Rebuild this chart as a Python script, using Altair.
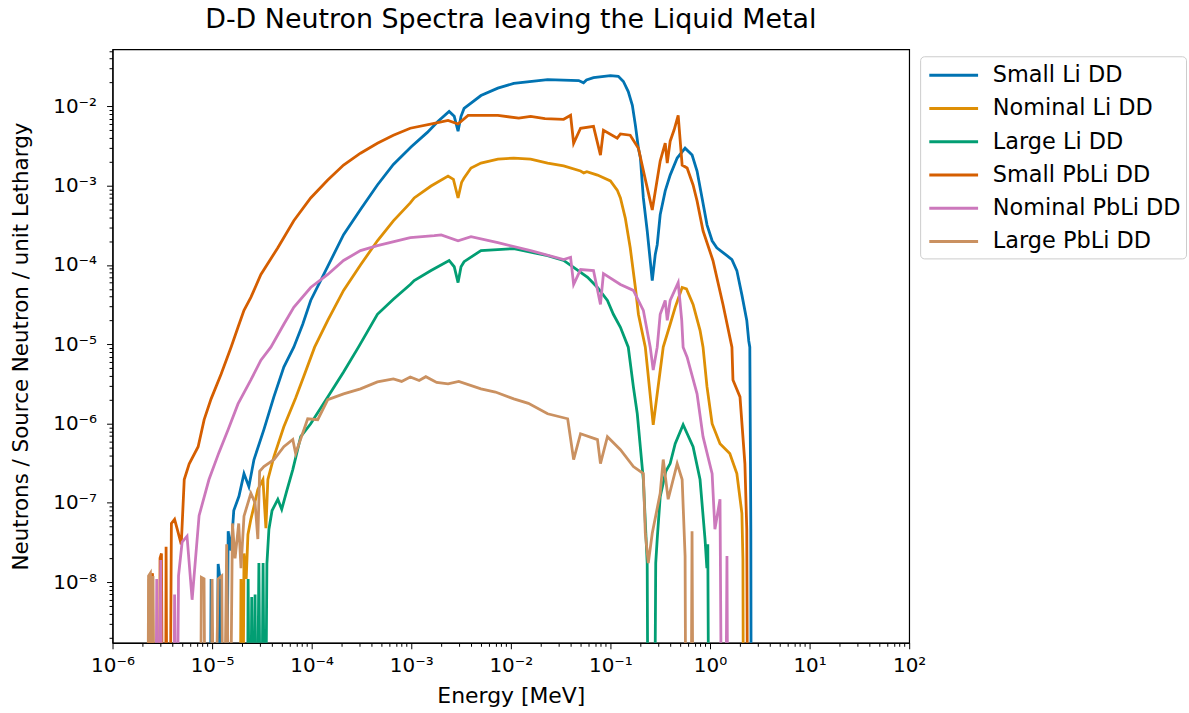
import altair as alt
import pandas as pd

SERIES = ["Small Li DD", "Nominal Li DD", "Large Li DD",
          "Small PbLi DD", "Nominal PbLi DD", "Large PbLi DD"]
COLORS = ["#0173b2", "#de8f05", "#029e73", "#d55e00", "#cc78bc", "#ca9161"]

# (energy [MeV], neutrons / source neutron / unit lethargy); 0 = empty tally
small_li = [
    (9.5e-6, 0), (9.77e-6, 1.1e-8), (1.0e-5, 0), (1.1e-5, 0), (1.15e-5, 1.7e-8), (1.2e-5, 1.1e-8),
    (1.25e-5, 0), (1.38e-5, 0), (1.45e-5, 4.4e-8), (1.55e-5, 2.5e-8), (1.65e-5, 8.0e-8), (1.86e-5, 1.21e-7),
    (2.09e-5, 2.34e-7), (2.34e-5, 1.6e-7), (2.63e-5, 3.5e-7), (3.31e-5, 8.4e-7), (4.17e-5, 2.17e-6),
    (5.25e-5, 5.16e-6), (6.61e-5, 9.2e-6), (8.13e-5, 1.79e-5), (9.77e-5, 3.57e-5), (1.45e-4, 9.6e-5),
    (2.09e-4, 2.41e-4), (3.09e-4, 5.0e-4), (4.57e-4, 1.02e-3), (6.61e-4, 1.85e-3), (1.0e-3, 3.1e-3),
    (1.45e-3, 4.7e-3), (1.86e-3, 6.49e-3), (2.40e-3, 8.65e-3), (2.70e-3, 7.5e-3), (2.95e-3, 4.86e-3),
    (3.16e-3, 7.5e-3), (3.39e-3, 9.44e-3), (5.01e-3, 1.37e-2), (7.4e-3, 1.7e-2), (1.07e-2, 1.95e-2),
    (2.34e-2, 2.18e-2), (4.8e-2, 2.12e-2), (5.37e-2, 1.98e-2), (5.75e-2, 2.15e-2), (6.76e-2, 2.3e-2),
    (1.0e-1, 2.45e-2), (1.2e-1, 2.4e-2), (1.35e-1, 2.06e-2), (1.51e-1, 1.54e-2), (1.66e-1, 1.03e-2),
    (1.78e-1, 5.8e-3), (1.91e-1, 2.97e-3), (2.0e-1, 2.23e-3), (2.14e-1, 7.0e-4), (2.34e-1, 2.7e-4),
    (2.63e-1, 6.37e-5), (2.82e-1, 1.36e-4), (2.95e-1, 1.8e-4), (3.16e-1, 4.29e-4), (3.55e-1, 8.6e-4),
    (3.98e-1, 1.36e-3), (4.68e-1, 2.23e-3), (5.62e-1, 2.97e-3), (6.61e-1, 2.43e-3), (7.41e-1, 1.53e-3),
    (8.32e-1, 7.0e-4), (9.33e-1, 3.21e-4), (1.05, 2.02e-4), (1.17, 1.65e-4), (1.48, 1.31e-4),
    (1.66, 1.17e-4), (1.86, 8.5e-5), (2.09, 4.2e-5), (2.34, 2.0e-5), (2.45, 1.1e-5), (2.51, 9.2e-6),
    (2.57, 4.66e-8), (2.6, 0),
]

nominal_li = [
    (1.9e-5, 0), (1.95e-5, 1.1e-8), (2.02e-5, 0), (2.09e-5, 2.3e-8), (2.2e-5, 1.1e-8), (2.29e-5, 4.0e-8),
    (2.45e-5, 6.2e-8), (2.63e-5, 9.0e-8), (2.88e-5, 1.48e-7), (3.24e-5, 1.97e-7), (3.47e-5, 4.8e-8),
    (3.63e-5, 1.97e-7), (4.17e-5, 3.8e-7), (5.25e-5, 9.1e-7), (6.9e-5, 2.1e-6), (8.3e-5, 3.9e-6),
    (1.07e-4, 9.2e-6), (1.45e-4, 2.0e-5), (2.09e-4, 4.78e-5), (3.09e-4, 1.0e-4), (4.57e-4, 2.02e-4),
    (6.61e-4, 3.6e-4), (9.77e-4, 6.07e-4), (1.07e-3, 7.0e-4), (1.58e-3, 9.9e-4), (2.34e-3, 1.32e-3),
    (2.65e-3, 1.2e-3), (2.95e-3, 7.0e-4), (3.2e-3, 1.1e-3), (3.39e-3, 1.25e-3), (3.98e-3, 1.67e-3),
    (5.01e-3, 1.93e-3), (7.41e-3, 2.16e-3), (1.07e-2, 2.23e-3), (1.58e-2, 2.16e-3), (2.34e-2, 1.93e-3),
    (3.39e-2, 1.78e-3), (5.01e-2, 1.53e-3), (5.4e-2, 1.45e-3), (5.8e-2, 1.5e-3), (7.41e-2, 1.36e-3),
    (1.0e-1, 1.15e-3), (1.17e-1, 8.8e-4), (1.26e-1, 7.0e-4), (1.41e-1, 3.9e-4), (1.58e-1, 1.65e-4),
    (1.78e-1, 5.2e-5), (1.91e-1, 2.39e-5), (2.24e-1, 9.2e-6), (2.69e-1, 9.66e-7), (3.39e-1, 9.2e-6),
    (3.98e-1, 1.79e-5), (4.47e-1, 2.92e-5), (5.25e-1, 5.2e-5), (5.8e-1, 5.0e-5), (6.76e-1, 3.18e-5),
    (7.94e-1, 1.5e-5), (8.51e-1, 9.2e-6), (9.33e-1, 2.9e-6), (1.05, 9.95e-7), (1.26, 5.58e-7),
    (1.58, 4.18e-7), (1.86, 2.34e-7), (2.09, 7.4e-8), (2.14, 1.95e-8), (2.18, 0),
]

large_li = [
    (2.25e-5, 0), (2.3e-5, 1.1e-8), (2.4e-5, 0), (2.5e-5, 6.5e-9), (2.6e-5, 0), (2.7e-5, 7.0e-9),
    (2.8e-5, 0), (2.95e-5, 1.74e-8), (3.1e-5, 0), (3.25e-5, 1.74e-8), (3.4e-5, 0), (3.55e-5, 1.7e-8),
    (3.72e-5, 4.66e-8), (4.0e-5, 8.0e-8), (4.57e-5, 1.11e-7), (5.0e-5, 8.3e-8), (5.6e-5, 1.4e-7),
    (6.46e-5, 2.63e-7), (7.76e-5, 6.83e-7), (9.77e-5, 9.95e-7), (1.45e-4, 2.17e-6), (2.09e-4, 4.47e-6),
    (2.95e-4, 9.2e-6), (4.57e-4, 2.39e-5), (6.61e-4, 3.7e-5), (9.77e-4, 5.68e-5), (1.07e-3, 6.37e-5),
    (1.58e-3, 8.5e-5), (2.40e-3, 1.14e-4), (2.70e-3, 9.5e-5), (2.95e-3, 6.0e-5), (3.16e-3, 9.5e-5),
    (3.39e-3, 1.1e-4), (5.01e-3, 1.52e-4), (1.07e-2, 1.61e-4), (2.34e-2, 1.31e-4), (3.39e-2, 1.14e-4),
    (4.27e-2, 9.3e-5), (5.9e-2, 7.0e-5), (7.41e-2, 5.2e-5), (9.33e-2, 3.57e-5), (1.07e-1, 2.39e-5),
    (1.26e-1, 1.64e-5), (1.51e-1, 9.2e-6), (1.70e-1, 2.9e-6), (1.86e-1, 1.33e-6), (2.14e-1, 1.97e-7),
    (2.34e-1, 1.74e-8), (2.40e-1, 0), (2.75e-1, 0), (2.85e-1, 1.74e-8), (2.95e-1, 3.5e-8),
    (3.16e-1, 1.2e-7), (3.6e-1, 2.5e-7), (3.98e-1, 3.13e-7), (4.47e-1, 5.58e-7), (5.37e-1, 9.66e-7),
    (6.76e-1, 5.12e-7), (7.94e-1, 1.97e-7), (8.91e-1, 3.48e-8), (9.3e-1, 1.5e-8), (9.5e-1, 3.0e-8),
    (9.8e-1, 0),
]

small_pbli = [
    (2.30e-6, 0), (2.33e-6, 1.1e-8), (2.38e-6, 0), (2.52e-6, 1.3e-8), (2.58e-6, 0), (2.95e-6, 0),
    (3.0e-6, 2.0e-8), (3.1e-6, 2.3e-8), (3.2e-6, 0), (3.4e-6, 0), (3.45e-6, 2.8e-8), (3.55e-6, 0),
    (3.75e-6, 0), (3.9e-6, 5.5e-8), (4.2e-6, 6.2e-8), (4.5e-6, 4.5e-8), (4.9e-6, 3.0e-8),
    (5.25e-6, 1.97e-7), (5.89e-6, 3.1e-7), (7.24e-6, 5.1e-7), (8.32e-6, 1.12e-6), (9.77e-6, 2.05e-6),
    (1.23e-5, 4.2e-6), (1.55e-5, 9.2e-6), (1.82e-5, 1.64e-5), (2.09e-5, 2.68e-5), (2.45e-5, 3.9e-5),
    (3.09e-5, 7.59e-5), (4.57e-5, 1.65e-4), (6.61e-5, 3.61e-4), (9.77e-5, 7.0e-4), (1.45e-4, 1.18e-3),
    (2.09e-4, 1.82e-3), (3.09e-4, 2.57e-3), (4.57e-4, 3.43e-3), (6.61e-4, 4.33e-3), (9.77e-4, 5.3e-3),
    (1.70e-3, 6.12e-3), (2.34e-3, 6.67e-3), (2.95e-3, 6.0e-3), (3.72e-3, 7.71e-3), (7.41e-3, 7.71e-3),
    (1.2e-2, 7.1e-3), (1.58e-2, 7.5e-3), (2.2e-2, 7.0e-3), (3.39e-2, 6.87e-3), (3.98e-2, 7.71e-3),
    (4.27e-2, 3.43e-3), (5.01e-2, 5.3e-3), (6.76e-2, 5.61e-3), (7.94e-2, 2.43e-3), (8.51e-2, 5.0e-3),
    (1.17e-1, 3.97e-3), (1.26e-1, 4.5e-3), (1.58e-1, 4.33e-3), (1.91e-1, 2.97e-3), (2.24e-1, 1.2e-3),
    (2.63e-1, 4.95e-4), (3.16e-1, 2.04e-3), (3.55e-1, 3.43e-3), (3.72e-1, 1.93e-3), (3.98e-1, 3.64e-3),
    (4.37e-1, 5.1e-3), (4.79e-1, 7.7e-3), (5.25e-1, 1.82e-3), (5.89e-1, 1.67e-3), (6.76e-1, 1.02e-3),
    (7.41e-1, 6.43e-4), (8.51e-1, 2.7e-4), (1.07, 1.14e-4), (1.35, 3.18e-5), (1.66, 9.2e-6),
    (1.70, 3.55e-6), (2.0, 2.17e-6), (2.24, 3.13e-7), (2.34, 4.66e-8), (2.40, 0),
]

nominal_pbli = [
    (2.7e-6, 0), (2.78e-6, 1.1e-8), (2.9e-6, 0), (3.05e-6, 1.9e-8), (3.15e-6, 0), (4.1e-6, 0),
    (4.2e-6, 7e-9), (4.4e-6, 0), (4.6e-6, 1.2e-8), (5.0e-6, 3.2e-8), (5.6e-6, 3.8e-8), (6.3e-6, 6e-9),
    (7.4e-6, 6.9e-8), (9.3e-6, 1.97e-7), (1.17e-5, 4.3e-7), (1.45e-5, 8.4e-7), (1.82e-5, 1.77e-6),
    (2.45e-5, 3.55e-6), (3.09e-5, 6.3e-6), (3.89e-5, 9.2e-6), (5.25e-5, 1.79e-5), (6.61e-5, 2.92e-5),
    (9.77e-5, 5.2e-5), (1.45e-4, 7.59e-5), (2.09e-4, 1.14e-4), (3.09e-4, 1.52e-4), (4.57e-4, 1.75e-4),
    (9.77e-4, 2.21e-4), (1.70e-3, 2.34e-4), (2.0e-3, 2.4e-4), (2.95e-3, 2.02e-4), (3.98e-3, 2.27e-4),
    (7.41e-3, 1.91e-4), (1.58e-2, 1.52e-4), (3.39e-2, 1.17e-4), (3.98e-2, 1.25e-4), (4.27e-2, 5.68e-5),
    (5.01e-2, 8.75e-5), (6.76e-2, 8.51e-5), (7.94e-2, 3.18e-5), (8.51e-2, 7.8e-5), (1.26e-1, 5.68e-5),
    (1.70e-1, 4.78e-5), (2.14e-1, 2.68e-5), (2.51e-1, 9.2e-6), (2.69e-1, 4.73e-6), (2.95e-1, 9.2e-6),
    (3.16e-1, 2.39e-5), (3.55e-1, 3.57e-5), (3.72e-1, 2.0e-5), (3.98e-1, 3.57e-5), (4.79e-1, 6.0e-5),
    (5.2e-1, 2.0e-5), (5.37e-1, 9.2e-6), (5.89e-1, 6.89e-6), (7.41e-1, 2.37e-6), (8.51e-1, 6.83e-7),
    (1.05, 2.34e-7), (1.12, 4.66e-8), (1.26, 1.11e-7), (1.32, 0), (1.42, 0), (1.48, 2.13e-8), (1.52, 0),
]

large_pbli = [
    (2.25e-6, 0), (2.3e-6, 1.2e-8), (2.4e-6, 1.3e-8), (2.5e-6, 0), (2.55e-6, 1.2e-8), (2.65e-6, 0),
    (7.6e-6, 0), (7.8e-6, 1.15e-8), (8.3e-6, 1.1e-8), (8.6e-6, 0), (9.7e-6, 0), (1.0e-5, 1.1e-8),
    (1.05e-5, 0), (1.15e-5, 1.1e-8), (1.25e-5, 1.2e-8), (1.3e-5, 0), (1.4e-5, 3.0e-8), (1.5e-5, 0),
    (1.6e-5, 5.5e-8), (1.7e-5, 2.0e-8), (1.85e-5, 5.5e-8), (1.95e-5, 1.5e-8), (2.09e-5, 6.8e-8),
    (2.45e-5, 1.32e-7), (2.7e-5, 1.0e-7), (2.88e-5, 3.5e-8), (3.0e-5, 2.5e-7), (3.31e-5, 2.87e-7),
    (4.17e-5, 3.5e-7), (5.25e-5, 5.1e-7), (6.46e-5, 6.3e-7), (6.9e-5, 4.2e-7), (9.12e-5, 1.15e-6),
    (1.15e-4, 1.12e-6), (1.45e-4, 2.0e-6), (2.09e-4, 2.37e-6), (3.09e-4, 2.74e-6), (4.57e-4, 3.35e-6),
    (6.61e-4, 3.65e-6), (8.0e-4, 3.4e-6), (9.77e-4, 3.87e-6), (1.2e-3, 3.5e-6), (1.4e-3, 3.9e-6),
    (1.8e-3, 3.3e-6), (2.34e-3, 3.16e-6), (3.0e-3, 3.4e-6), (5.01e-3, 2.74e-6), (7.0e-3, 2.5e-6),
    (1.07e-2, 2.05e-6), (1.5e-2, 1.8e-6), (2.34e-2, 1.33e-6), (3.72e-2, 1.15e-6), (4.27e-2, 3.52e-7),
    (5.01e-2, 7.45e-7), (7.41e-2, 6.27e-7), (7.94e-2, 3.13e-7), (9.33e-2, 6.83e-7), (1.26e-1, 4.69e-7),
    (1.70e-1, 2.87e-7), (2.14e-1, 2.34e-7), (2.24e-1, 4.14e-8), (2.40e-1, 1.74e-8), (2.63e-1, 4.14e-8),
    (3.16e-1, 1.32e-7), (3.39e-1, 3.52e-7), (3.80e-1, 1.11e-7), (4.68e-1, 3.13e-7), (5.25e-1, 1.97e-7),
    (5.62e-1, 2.13e-8), (5.75e-1, 0), (6.4e-1, 0), (6.6e-1, 4.39e-8), (6.8e-1, 0),
]

SPECTRA = [small_li, nominal_li, large_li, small_pbli, nominal_pbli, large_pbli]

FLOOR = 1e-11  # empty tallies fall below the log axis and are clipped, as in the original
rows = []
for name, spec in zip(SERIES, SPECTRA):
    for i, (e, f) in enumerate(spec):
        rows.append({"series": name, "energy": e, "flux": max(f, FLOOR), "idx": i})
df = pd.DataFrame(rows)

x_ticks = [10.0 ** k for k in range(-6, 3)] + [m * 10.0 ** k for k in range(-6, 2) for m in range(2, 10)]
y_ticks = [10.0 ** k for k in range(-8, -1)] + [m * 10.0 ** k for k in range(-9, -1) for m in range(2, 10)
                                                   if 1.72e-9 <= m * 10.0 ** k <= 0.0525]

EXP = "round(log(datum.value)/LN10)"
IS_MAJOR = f"abs(log(datum.value)/LN10 - {EXP}) < 1e-6"
SUP = "\u2070\u00b9\u00b2\u00b3\u2074\u2075\u2076\u2077\u2078\u2079"
LABEL = (f"({IS_MAJOR}) ? '10' + ({EXP} < 0 ? '\u207b' : '') + "
         f"substring('{SUP}', abs({EXP}), abs({EXP}) + 1) : ''")
TICK = {"condition": {"test": IS_MAJOR, "value": 6}, "value": 3.5}

FONT = "DejaVu Sans"

x_enc = alt.X("energy:Q",
              scale=alt.Scale(type="log", domain=[1e-6, 1e2], nice=False),
              axis=alt.Axis(values=x_ticks, labelExpr=LABEL, tickSize=TICK, title="Energy [MeV]",
                            grid=False, labelOverlap=False, labelFontSize=20, titleFontSize=22,
                            labelPadding=7, titlePadding=10, labelFlush=False))
y_enc = alt.Y("flux:Q",
              scale=alt.Scale(type="log", domain=[1.72e-9, 0.0525], nice=False),
              axis=alt.Axis(values=y_ticks, labelExpr=LABEL, tickSize=TICK,
                            title="Neutrons / Source Neutron / unit Lethargy",
                            grid=False, labelOverlap=False, labelFontSize=20, titleFontSize=21.5,
                            labelPadding=10, titlePadding=20, labelFlush=False))
color_enc = alt.Color("series:N", scale=alt.Scale(domain=SERIES, range=COLORS),
                      legend=alt.Legend(title=None, orient="none", legendX=811, legendY=7,
                                        symbolType="M-0.8,0H3.2", symbolStrokeWidth=3, symbolSize=600,
                                        labelFontSize=22.5, labelFont=FONT, labelColor="black",
                                        labelOffset=40, labelLimit=400, rowPadding=7.4, padding=5,
                                        strokeColor="#cccccc", cornerRadius=4, fillColor="white"))

base = alt.Chart(df).encode(x=x_enc, y=y_enc, color=color_enc, order=alt.Order("idx:Q"))
layers = [base.transform_filter(alt.datum.series == s).mark_line(clip=True, strokeWidth=2.8)
          for s in SERIES]

chart = alt.layer(*layers).properties(
    width=800, height=596,
    title=alt.TitleParams("D-D Neutron Spectra leaving the Liquid Metal", fontSize=27,
                          font=FONT, fontWeight="normal", color="black", anchor="middle", offset=7),
    padding={"left": 10, "top": 4, "right": 2, "bottom": 2},
    background="white",
).configure_axis(
    labelFont=FONT, titleFont=FONT, labelColor="black", titleColor="black",
    tickColor="black", domainColor="black", titleFontWeight="normal", tickWidth=1, domainWidth=1.2,
).configure_view(stroke="black", strokeWidth=1.2)

chart.save("out.html", embed_options={"renderer": "svg", "actions": False})
